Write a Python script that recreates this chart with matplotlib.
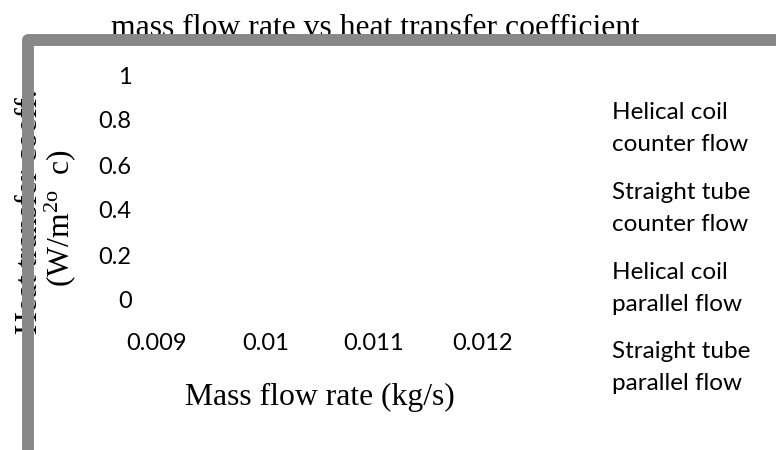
"""
Empty Excel-style chart: mass flow rate vs heat transfer coefficient.
"""
import matplotlib
matplotlib.use("Agg")
import matplotlib.pyplot as plt
from matplotlib.lines import Line2D
import numpy as np

# categories on the x axis (mass flow rate, kg/s)
mass_flow = ["0.009", "0.01", "0.011", "0.012"]
y_ticks = [0, 0.2, 0.4, 0.6, 0.8, 1]
y_tick_labels = ["0", "0.2", "0.4", "0.6", "0.8", "1"]

series_names = [
    "Helical coil\ncounter flow",
    "Straight tube\ncounter flow",
    "Helical coil\nparallel flow",
    "Straight tube\nparallel flow",
]
# no points are visible in the chart
helical_counter = [None, None, None, None]
straight_counter = [None, None, None, None]
helical_parallel = [None, None, None, None]
straight_parallel = [None, None, None, None]
series_values = [helical_counter, straight_counter, helical_parallel, straight_parallel]

W, H = 776, 450
SERIF = "Liberation Serif"
SANS = "Lato"
plt.rcParams["mathtext.fontset"] = "custom"
plt.rcParams["mathtext.rm"] = SERIF
plt.rcParams["mathtext.it"] = SERIF


def fx(px):
    return px / W


def fy(py):
    return 1 - py / H


fig = plt.figure(figsize=(W / 100, H / 100), dpi=100)
fig.patch.set_facecolor("white")

# plot area in pixels: x 140..560, y 75..300
ax = fig.add_axes([fx(140), fy(300), fx(420), 225 / H])
x_pos = np.arange(len(mass_flow))
for name, vals in zip(series_names, series_values):
    ax.plot(x_pos, np.array(vals, dtype=float), label=name)

ax.set_xlim(-0.157, 3.72)
ax.set_ylim(0, 1)
ax.set_xticks(x_pos)
ax.set_xticklabels(mass_flow, fontfamily=SANS, fontsize=17)
ax.set_yticks(y_ticks)
ax.set_yticklabels(y_tick_labels, fontfamily=SANS, fontsize=17)
ax.tick_params(axis="x", length=0, pad=24)
ax.tick_params(axis="y", length=0, pad=6)
for s in ax.spines.values():
    s.set_visible(False)
ax.set_facecolor("none")

leg = ax.legend(
    loc="upper left",
    bbox_to_anchor=(fx(612), fy(102)),
    bbox_transform=fig.transFigure,
    frameon=False,
    handlelength=0,
    handletextpad=0,
    borderpad=0,
    borderaxespad=0,
    labelspacing=1.1,
    prop={"family": SANS, "size": 17.5},
)
for h in leg.legend_handles:
    h.set_visible(False)
for t in leg.get_texts():
    t.set_linespacing(1.65)

fig.text(fx(375), fy(36), "mass flow rate vs heat transfer coefficient",
         ha="center", va="baseline", fontfamily=SERIF, fontsize=22.8)
fig.text(fx(320), fy(397), "Mass flow rate (kg/s)",
         ha="center", va="center", fontfamily=SERIF, fontsize=22.8)
fig.text(fx(37), fy(212), "Heat transfer coeff.", rotation=90,
         rotation_mode="anchor", ha="center", va="baseline",
         fontfamily=SERIF, fontsize=22.8)
fig.text(fx(69), fy(218), r"(W/m$^{\mathrm{2o}}$  c)", rotation=90,
         rotation_mode="anchor", ha="center", va="baseline",
         fontfamily=SERIF, fontsize=22.8)

# thick grey chart-area border (top and left edges visible)
border = Line2D([fx(27.5), fx(27.5), 1.05], [-0.05, fy(39.5), fy(39.5)],
                transform=fig.transFigure, color="#888888", lw=8.6,
                solid_joinstyle="round", zorder=10)
fig.add_artist(border)

fig.savefig("out.png", dpi=100)
